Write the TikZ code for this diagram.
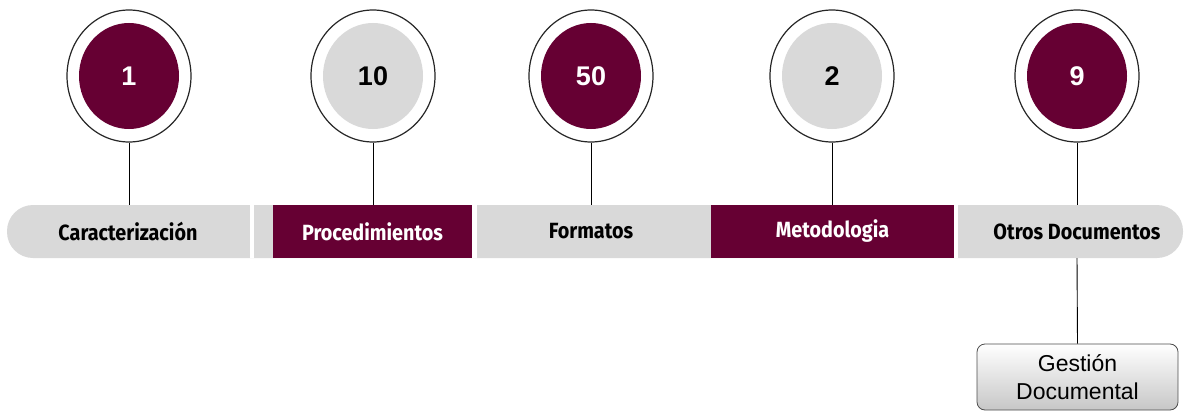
\documentclass[tikz,border=0pt]{standalone}
\usepackage{fontspec}
\setmainfont{Liberation Sans}
\newfontfamily\barfont[FakeStretch=0.9]{Fira Sans}
\usepackage{tikz}
\usetikzlibrary{positioning,shapes.geometric}
\definecolor{vino}{HTML}{660033}
\definecolor{gris}{HTML}{D9D9D9}

\begin{document}
\begin{tikzpicture}[x=1pt, y=-1pt,
    ring/.style={ellipse, draw=black!85, line width=1.2pt, fill=white, minimum width=124pt, minimum height=132pt, inner sep=0pt},
    num/.style={ellipse, minimum width=100pt, minimum height=106pt, inner sep=0pt, font=\fontsize{27}{30}\selectfont\bfseries},
    tag/.style={minimum height=53pt, inner sep=0pt, font=\barfont\fontsize{22}{26}\selectfont\bfseries},
    doc/.style={draw=black!70, line width=0.8pt, rounded corners=8pt, top color=white, bottom color=black!22, minimum width=201pt, minimum height=66pt, align=center, font=\fontsize{23}{28}\selectfont}]

  \useasboundingbox (0,0) rectangle (1186,412);

  % bar
  \fill[gris, rounded corners=26pt] (7,205) rectangle (1183,258);
  \fill[white] (250,205) rectangle (254,258);
  \fill[white] (472,205) rectangle (477,258);
  \fill[white] (954,205) rectangle (958,258);

  \node[tag] at (128,231.5) (car) {Caracterización};
  \node[tag, fill=vino, text=white, minimum width=199pt] at (372.5,231.5) (proc) {Procedimientos};
  \node[tag] at (591,231.5) (form) {Formatos};
  \node[tag, fill=vino, text=white, minimum width=243pt] at (832.5,231.5) (met) {Metodologia};
  \node[tag] at (1077,231.5) (otr) {Otros Documentos};

  % circles
  \node[ring] at (129,76) (r1) {};
  \node[num, fill=vino, text=white] at (r1) (n1) {1};
  \node[ring] at (373,76) (r2) {};
  \node[num, fill=gris] at (r2) (n2) {10};
  \node[ring] at (591,76) (r3) {};
  \node[num, fill=vino, text=white] at (r3) (n3) {50};
  \node[ring] at (832,76) (r4) {};
  \node[num, fill=gris] at (r4) (n4) {2};
  \node[ring] at (1077,76) (r5) {};
  \node[num, fill=vino, text=white] at (r5) (n5) {9};

  % connections
  \draw[line width=0.9pt] (r1.south) -- (r1.south |- car.north);
  \draw[line width=0.9pt] (r2.south) -- (r2.south |- proc.north);
  \draw[line width=0.9pt] (r3.south) -- (r3.south |- form.north);
  \draw[line width=0.9pt] (r4.south) -- (r4.south |- met.north);
  \draw[line width=0.9pt] (r5.south) -- (r5.south |- otr.north);

  \node[doc] at (1077.5,377) (gd) {Gestión\\Documental};
  \draw[line width=0.9pt] (otr.south) -- (gd.north);
\end{tikzpicture}
\end{document}
